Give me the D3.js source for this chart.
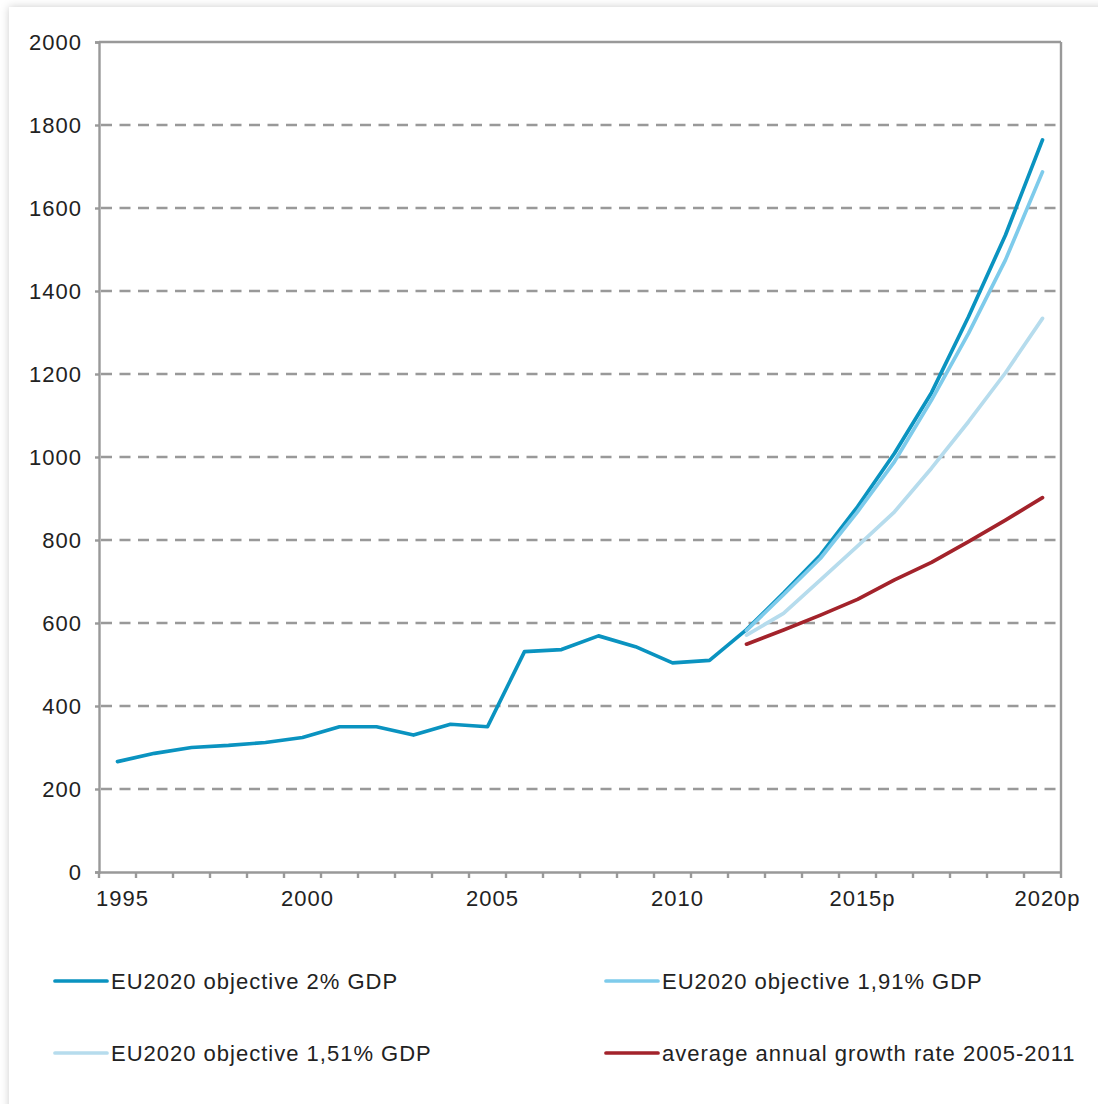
<!DOCTYPE html>
<html><head><meta charset="utf-8">
<script src="https://cdn.jsdelivr.net/npm/d3@7"></script>
<style>
html,body{margin:0;padding:0;background:#fff;}
svg{display:block;}
text{font-family:"Liberation Sans",Arial,sans-serif;fill:#222;letter-spacing:1px;}
</style></head><body>
<script>
const years = d3.range(1995, 2021);
const tickLabels = {1995:"1995",2000:"2000",2005:"2005",2010:"2010",2015:"2015p",2020:"2020p"};
const yTicks = [0,200,400,600,800,1000,1200,1400,1600,1800,2000];

const s2years = d3.range(1995, 2021);
const s2 = [266,286,300,305,312,324,350,350,330,356,350,531,536,569,543,504,510,584,672,764,880,1009,1155,1338,1535,1764];
const projYears = d3.range(2012, 2021);
const s191 = [582,668,756,868,989,1137,1298,1475,1687];
const s151 = [571,623,704,785,868,973,1085,1203,1334];
const sAvg = [549,583,619,657,704,746,796,848,902];

const seriesNames = ["EU2020 objective 2% GDP","EU2020 objective 1,91% GDP","EU2020 objective 1,51% GDP","average annual growth rate 2005-2011"];
const colors = ["#0a93c0","#7ecbeb","#b6dced","#a3232b"];

(function(){
const W=1098,H=1104;
const FONT="Liberation Sans, Arial, sans-serif";
const svg=d3.select("body").append("svg").attr("width",W).attr("height",H);
const defs=svg.append("defs");
const f=defs.append("filter").attr("id","sh").attr("x","-5%").attr("y","-5%").attr("width","110%").attr("height","110%");
f.append("feDropShadow").attr("dx",0).attr("dy",0).attr("stdDeviation",4).attr("flood-color","#000").attr("flood-opacity",0.2);
svg.append("rect").attr("width",W).attr("height",H).attr("fill","#fff");
svg.append("rect").attr("x",9).attr("y",7).attr("width",W+20).attr("height",H+20).attr("fill","#fff").attr("filter","url(#sh)");

const pL=99,pR=1061,pT=42,pB=872;
const x=d3.scaleBand().domain(years).range([pL,pR]);
const y=d3.scaleLinear().domain([0,2000]).range([pB,pT]);
const cx=d=>x(d)+x.bandwidth()/2;

svg.append("g").selectAll("line").data(yTicks.filter(t=>t>0&&t<2000)).join("line")
 .attr("x1",pL+2).attr("x2",pR).attr("y1",d=>y(d)).attr("y2",d=>y(d))
 .attr("stroke","#999").attr("stroke-width",2.6).attr("stroke-dasharray","11,7.5");
svg.append("line").attr("x1",pL).attr("x2",pR).attr("y1",y(2000)).attr("y2",y(2000)).attr("stroke","#999").attr("stroke-width",2.4);
svg.append("line").attr("x1",pR).attr("x2",pR).attr("y1",pT).attr("y2",pB).attr("stroke","#999").attr("stroke-width",2.4);

const ya=svg.append("g").attr("transform",`translate(${pL},0)`)
 .call(d3.axisLeft(y).tickValues(yTicks).tickSize(4).tickPadding(13).tickFormat(d3.format("d")));
ya.select(".domain").attr("stroke","#999").attr("stroke-width",2.4);
ya.selectAll(".tick line").attr("stroke","#999").attr("stroke-width",2.4);
ya.selectAll("text").attr("font-size",22).attr("font-family",FONT).attr("fill","#222");

const xa=svg.append("g").attr("transform",`translate(0,${pB})`)
 .call(d3.axisBottom(x).tickSize(0).tickFormat(d=>tickLabels[d]||""));
xa.select(".domain").attr("stroke","#999").attr("stroke-width",2.4);
xa.selectAll("text").attr("font-size",22).attr("font-family",FONT).attr("fill","#222").attr("dx",5).attr("y",34).attr("dy",0);
svg.append("g").selectAll("line").data(years.map(d=>x(d)).concat([pR])).join("line")
 .attr("x1",d=>d).attr("x2",d=>d).attr("y1",pB).attr("y2",pB+6)
 .attr("stroke","#999").attr("stroke-width",2.4);

const line=d3.line().x(d=>cx(d[0])).y(d=>y(d[1]));
const data=[d3.zip(s2years,s2), d3.zip(projYears,s191), d3.zip(projYears,s151), d3.zip(projYears,sAvg)];
data.forEach((d,i)=>{
 svg.append("path").datum(d).attr("d",line).attr("fill","none").attr("stroke",colors[i])
  .attr("stroke-width",3.7).attr("stroke-linejoin","round").attr("stroke-linecap","round");
});

const legPos=[[55,981],[606,981],[55,1053],[606,1053]];
seriesNames.forEach((n,i)=>{
 const [lx,ly]=legPos[i];
 const g=svg.append("g");
 g.append("line").attr("x1",lx).attr("x2",lx+52).attr("y1",ly).attr("y2",ly).attr("stroke",colors[i]).attr("stroke-width",3.7).attr("stroke-linecap","round");
 g.append("text").attr("x",lx+56).attr("y",ly+7.5).attr("font-size",22).text(n);
});
})();
</script>
</body></html>
